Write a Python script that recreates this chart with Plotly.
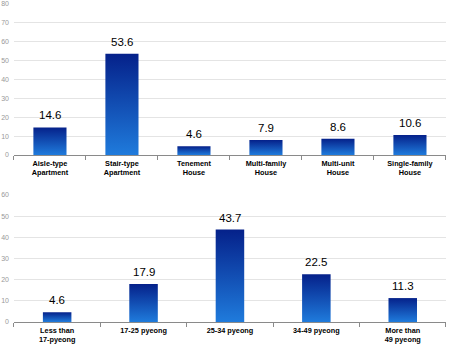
import plotly.graph_objects as go

# Top chart: housing type
house_types = ["Aisle-type<br>Apartment", "Stair-type<br>Apartment", "Tenement<br>House",
               "Multi-family<br>House", "Multi-unit<br>House", "Single-family<br>House"]
house_values = [14.6, 53.6, 4.6, 7.9, 8.6, 10.6]

# Bottom chart: floor area
size_groups = ["Less than<br>17-pyeong", "17-25 pyeong", "25-34 pyeong",
               "34-49 pyeong", "More than<br>49 pyeong"]
size_values = [4.6, 17.9, 43.7, 22.5, 11.3]

top_ticks = [0, 10, 20, 30, 40, 50, 60, 70, 80]
bottom_ticks = [0, 10, 20, 30, 40, 50, 60]

GRAD = [[0, "#1f7bdc"], [1, "#05218a"]]
fig = go.Figure()


def add_bars(vals, xa, ya, half):
    for i, v in enumerate(vals):
        fig.add_trace(go.Scatter(
            x=[i - half, i + half, i + half, i - half, i - half],
            y=[0, 0, v, v, 0],
            xaxis=xa, yaxis=ya, mode="lines", line=dict(width=0),
            fill="toself",
            fillgradient=dict(type="vertical", colorscale=GRAD, start=0, stop=v),
            hoverinfo="skip", showlegend=False))
        fig.add_annotation(
            x=i, y=v, xref=xa, yref=ya, text=f"{v:.1f}", showarrow=False,
            yanchor="bottom", yshift=4,
            font=dict(family="Liberation Sans", size=11.5, color="#000"))


add_bars(house_values, "x", "y", 0.23)
add_bars(size_values, "x2", "y2", 0.165)

tickfont_x = dict(family="Liberation Sans Narrow, Liberation Sans", size=7.3, color="#000")
tickfont_y = dict(family="Liberation Sans", size=7, color="#999")


def xaxis_cfg(n, labels, domain, anchor):
    return dict(domain=domain, anchor=anchor, range=[-0.5, n - 0.5],
                tickvals=list(range(n)), ticktext=[f"<b>{t}</b>" for t in labels],
                ticks="", showgrid=False, zeroline=False,
                showline=True, linecolor="#8a8a8a", linewidth=1,
                tickfont=tickfont_x, automargin=False, ticklabelstandoff=1,
                minor=dict(tickvals=[i - 0.5 for i in range(n + 1)], ticks="outside",
                           ticklen=4, tickcolor="#8a8a8a", showgrid=False))


def yaxis_cfg(rng, ticks, domain, anchor):
    return dict(domain=domain, anchor=anchor, range=rng, tickvals=ticks,
                showgrid=True, gridcolor="#e4e4e4", gridwidth=1,
                zeroline=False, showline=False, ticks="",
                tickfont=tickfont_y, automargin=False, ticklabelstandoff=4)


fig.update_layout(
    width=450, height=344,
    margin=dict(l=0, r=0, t=0, b=0),
    paper_bgcolor="white", plot_bgcolor="white",
    xaxis=xaxis_cfg(6, house_types, [0.031, 0.991], "y"),
    yaxis=yaxis_cfg([0, 80], top_ticks, [0.5494, 0.9884], "x"),
    xaxis2=xaxis_cfg(5, size_groups, [0.031, 0.991], "y2"),
    yaxis2=yaxis_cfg([0, 60], bottom_ticks, [0.064, 0.4331], "x2"),
)

fig.write_html("out.html")
